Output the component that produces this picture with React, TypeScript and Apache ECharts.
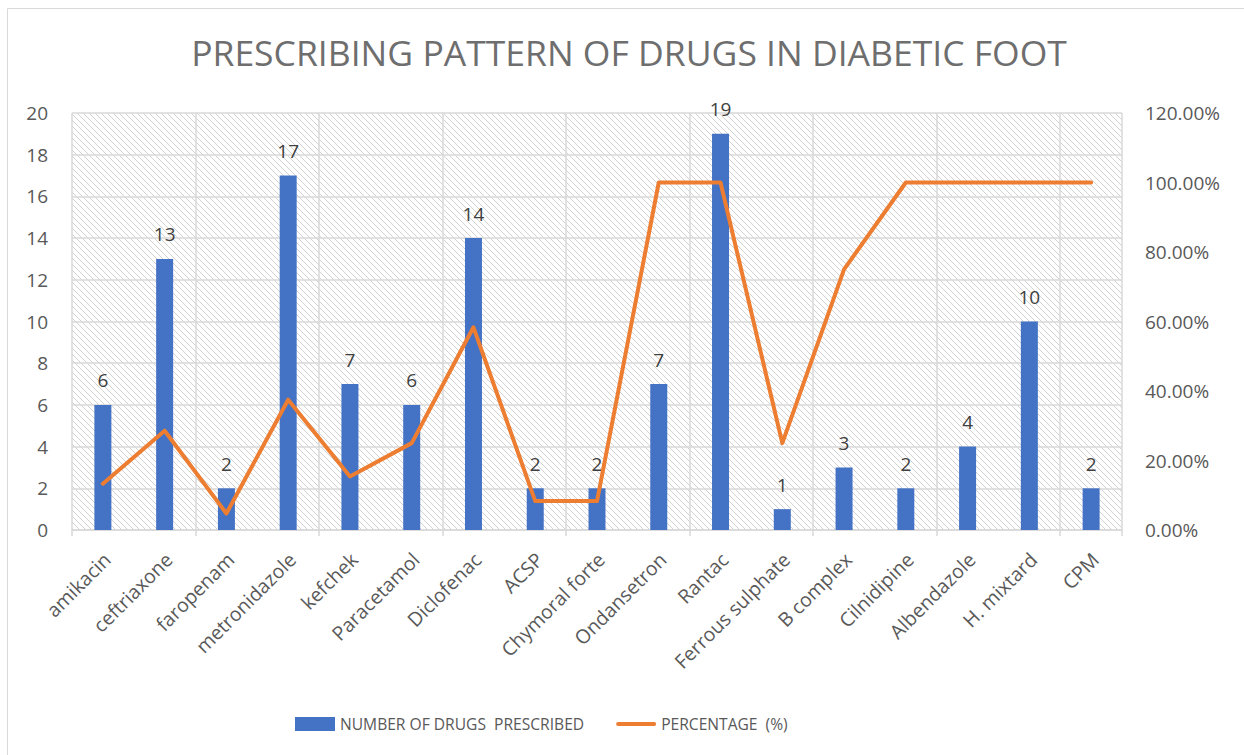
import React, { useEffect, useRef } from "react";
import * as echarts from "echarts";

const categories = [
  "amikacin",
  "ceftriaxone",
  "faropenam",
  "metronidazole",
  "kefchek",
  "Paracetamol",
  "Diclofenac",
  "ACSP",
  "Chymoral forte",
  "Ondansetron",
  "Rantac",
  "Ferrous sulphate",
  "B complex",
  "Cilnidipine",
  "Albendazole",
  "H. mixtard",
  "CPM",
];

const drugCounts = [6, 13, 2, 17, 7, 6, 14, 2, 2, 7, 19, 1, 3, 2, 4, 10, 2];

const percentages = [
  0.1333, 0.2857, 0.0476, 0.375, 0.1538, 0.25, 0.5833, 0.0833, 0.0833, 1, 1,
  0.25, 0.75, 1, 1, 1, 1,
];

const titleText = "PRESCRIBING PATTERN OF DRUGS IN DIABETIC FOOT";
const barName = "NUMBER OF DRUGS  PRESCRIBED";
const lineName = "PERCENTAGE  (%)";

const FONT = "'Open Sans', 'Noto Sans', sans-serif";

function makeHatch(): HTMLCanvasElement {
  const s = 6;
  const c = document.createElement("canvas");
  c.width = s;
  c.height = s;
  const ctx = c.getContext("2d")!;
  ctx.fillStyle = "#ffffff";
  ctx.fillRect(0, 0, s, s);
  ctx.strokeStyle = "#d2d2d2";
  ctx.lineWidth = 1;
  ctx.beginPath();
  ctx.moveTo(-1, -1);
  ctx.lineTo(s + 1, s + 1);
  ctx.moveTo(-1, s - 1);
  ctx.lineTo(1, s + 1);
  ctx.moveTo(s - 1, -1);
  ctx.lineTo(s + 1, 1);
  ctx.stroke();
  return c;
}

export default function App() {
  const ref = useRef<HTMLDivElement>(null);

  useEffect(() => {
    if (!ref.current) return;
    const chart = echarts.init(ref.current, undefined, { renderer: "svg" });
    const hatch = makeHatch();
    const option: any = {
      animation: false,
      backgroundColor: "#ffffff",
      textStyle: { fontFamily: FONT },
      title: {
        text: titleText,
        left: 624,
        textAlign: "center",
        top: 29,
        textStyle: {
          fontFamily: FONT,
          fontSize: 35.5,
          fontWeight: "normal",
          color: "#6e6e6e",
        },
      },
      graphic: [
        {
          type: "rect",
          shape: { x: 7.5, y: 8.5, width: 1400, height: 900 },
          style: { fill: "none", stroke: "#d9d9d9", lineWidth: 1 },
          silent: true,
          z: -1,
        },
      ],
      legend: {
        left: 290,
        top: 711,
        itemGap: 32,
        itemWidth: 40,
        itemHeight: 14,
        textStyle: { fontFamily: FONT, fontSize: 15.6, color: "#595959" },
        data: [
          { name: barName, icon: "rect" },
          {
            name: lineName,
            icon: "path://M2,0 L40,0 A2,2 0 0 1 40,4 L2,4 A2,2 0 0 1 2,0 Z",
          },
        ],
      },
      grid: {
        left: 72,
        right: 122,
        top: 113,
        bottom: 225,
        show: true,
        borderWidth: 0,
        backgroundColor: {
          image: hatch,
          repeat: "repeat",
          imageWidth: 6,
          imageHeight: 6,
        },
      },
      xAxis: {
        type: "category",
        data: categories,
        axisLine: { lineStyle: { color: "#d9d9d9", width: 1.5 } },
        axisTick: {
          show: true,
          length: 6,
          lineStyle: { color: "#d9d9d9", width: 1.5 },
        },
        splitLine: {
          show: true,
          lineStyle: { color: "#d9d9d9", width: 1.5 },
        },
        axisLabel: { show: false },
      },
      yAxis: [
        {
          type: "value",
          min: 0,
          max: 20,
          interval: 2,
          axisLine: { show: false },
          axisTick: { show: false },
          splitLine: { lineStyle: { color: "#d9d9d9", width: 1.5 } },
          axisLabel: {
            margin: 24,
            fontFamily: FONT,
            fontSize: 19,
            color: "#595959",
          },
        },
        {
          type: "value",
          min: 0,
          max: 1.2,
          interval: 0.2,
          axisLine: { show: false },
          axisTick: { show: false },
          splitLine: { show: false },
          axisLabel: {
            margin: 23,
            fontFamily: FONT,
            fontSize: 19,
            color: "#595959",
            formatter: (v: number) => (v * 100).toFixed(2) + "%",
          },
        },
      ],
      series: [
        {
          name: barName,
          type: "bar",
          data: drugCounts,
          barWidth: 17,
          itemStyle: { color: "#4472C4" },
          label: {
            show: true,
            position: "top",
            distance: 15,
            fontFamily: FONT,
            fontSize: 19,
            color: "#404040",
          },
        },
        {
          name: lineName,
          type: "line",
          yAxisIndex: 1,
          data: percentages,
          symbol: "none",
          lineStyle: { color: "#ED7D31", width: 4, join: "round", cap: "round" },
          itemStyle: { color: "#ED7D31" },
        },
        {
          name: "categoryLabels",
          type: "custom",
          xAxisIndex: 0,
          yAxisIndex: 0,
          silent: true,
          clip: false,
          z: 10,
          data: categories.map((_, i) => [i, 0]),
          renderItem: (params: any, api: any) => {
            const p = api.coord([api.value(0), 0]);
            return {
              type: "text",
              x: p[0] + 4,
              y: p[1] + 26,
              rotation: Math.PI / 4,
              style: {
                text: categories[params.dataIndex],
                align: "right",
                verticalAlign: "middle",
                fontFamily: FONT,
                fontSize: 19.5,
                fill: "#595959",
              },
            };
          },
        },
      ],
    };
    chart.setOption(option);
    return () => chart.dispose();
  }, []);

  return (
    <div
      ref={ref}
      style={{ position: "absolute", left: 0, top: 0, width: 1244, height: 755 }}
    />
  );
}
